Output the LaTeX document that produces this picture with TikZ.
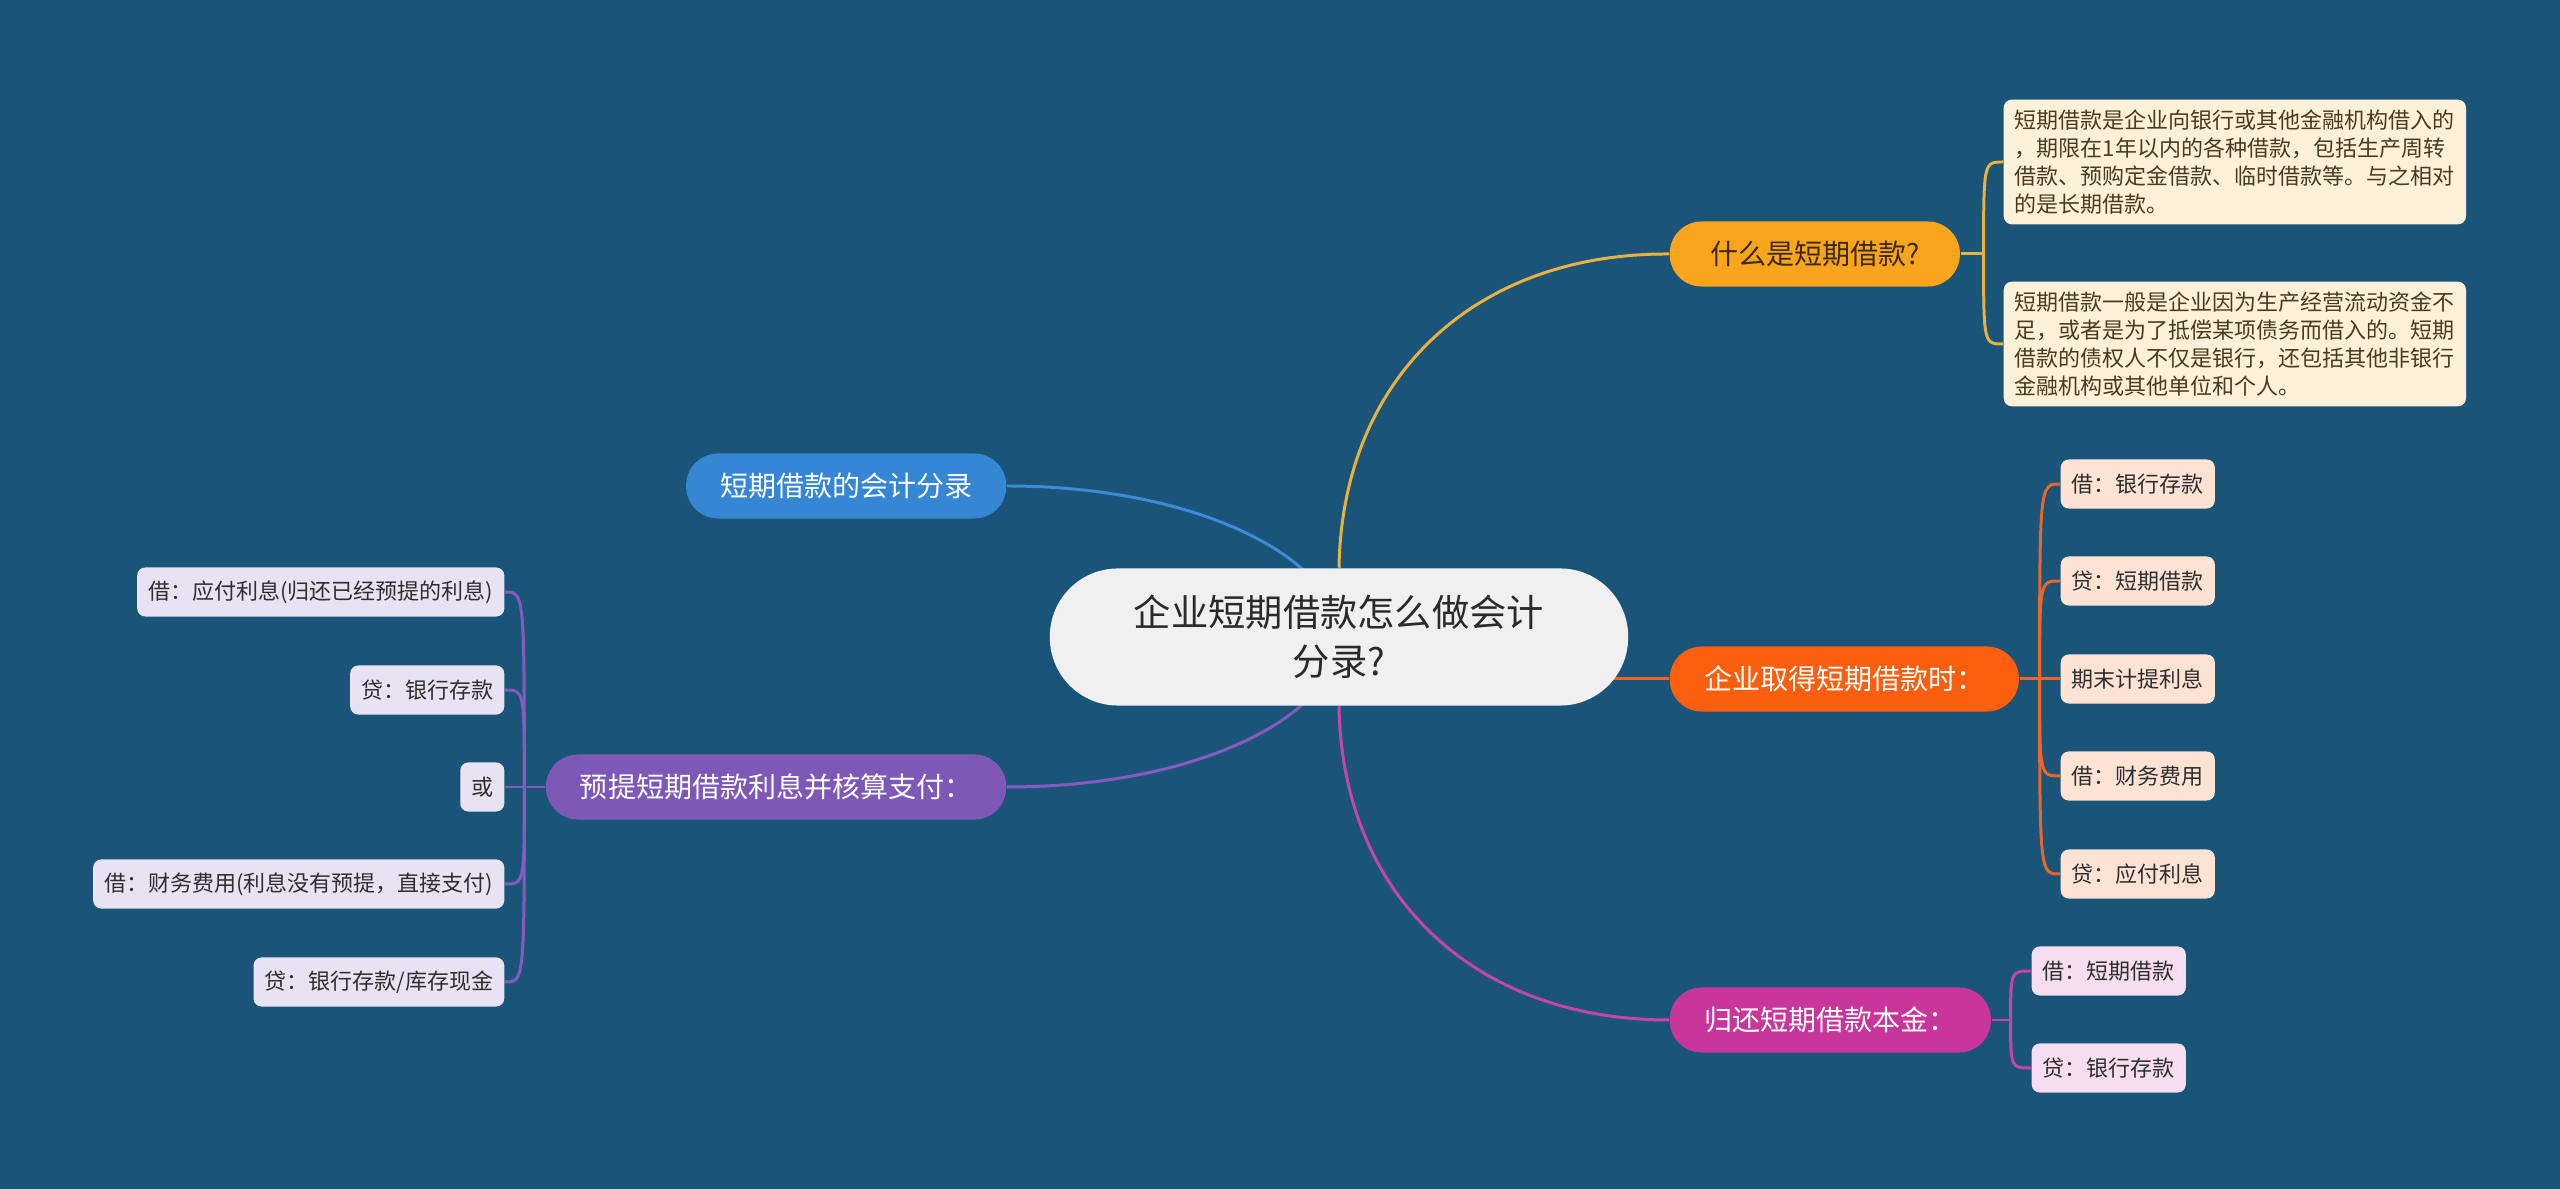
\documentclass[tikz,border=0pt]{standalone}
\usepackage{fontspec}
\newfontfamily\cjkfont{Noto Sans CJK SC}
\usetikzlibrary{positioning}
\definecolor{bgblue}{HTML}{1A5479}
\definecolor{rootgray}{HTML}{F0F0F0}
\definecolor{roottext}{HTML}{2A2A2A}
\definecolor{ylw}{HTML}{FBA51D}
\definecolor{ylwtext}{HTML}{3B2A0E}
\definecolor{ylwline}{HTML}{E9B13F}
\definecolor{org}{HTML}{FA5F10}
\definecolor{orgline}{HTML}{E9672B}
\definecolor{mag}{HTML}{C8369B}
\definecolor{magline}{HTML}{C546A6}
\definecolor{blu}{HTML}{3586D3}
\definecolor{bluline}{HTML}{3B8BD8}
\definecolor{pur}{HTML}{7E58B7}
\definecolor{purline}{HTML}{845CC0}
\definecolor{notefill}{HTML}{FEF1D9}
\definecolor{notetext}{HTML}{4A3A1E}
\definecolor{orgleaf}{HTML}{FDE3D4}
\definecolor{magleaf}{HTML}{F6DDEF}
\definecolor{purleaf}{HTML}{E8E3F3}
\definecolor{leaftext}{HTML}{2E2E2E}
\pgfdeclarelayer{bg}
\pgfdeclarelayer{edges}
\pgfsetlayers{bg,edges,main}

\begin{document}
\begin{tikzpicture}[x=0.01cm,y=-0.01cm,every node/.style={font=\cjkfont},
  root/.style={fill=rootgray,text=roottext,rounded corners=0.68cm,minimum width=5.78cm,minimum height=1.37cm,align=center,font=\cjkfont\fontsize{10.6}{13.9}\selectfont},
  branch/.style={rounded corners=0.32cm,minimum height=0.65cm,inner xsep=0.33cm,inner ysep=0pt,text=white,font=\cjkfont\fontsize{7.97}{9}\selectfont},
  leaf/.style={rounded corners=0.08cm,minimum height=0.49cm,inner xsep=0.11cm,inner ysep=0pt,text=leaftext,font=\cjkfont\fontsize{6.26}{7.5}\selectfont},
  note/.style={leaf,fill=notefill,text=notetext,align=left,minimum width=4.61cm,inner ysep=0.1cm,font=\cjkfont\fontsize{6.26}{7.97}\selectfont},
  link/.style={line width=0.85pt}]
\begin{pgfonlayer}{bg}
\fill[bgblue] (0,0) rectangle (2560,1189);
\end{pgfonlayer}
\useasboundingbox (0,0) rectangle (2560,1189);

\node[root] (root) at (1339,637) {企业短期借款怎么做会计\\分录?};

% right side
\node[branch,fill=ylw,text=ylwtext,minimum width=2.9cm,anchor=west] (what) at (1669,254) {什么是短期借款?};
\node[note,anchor=west] (def1) at (2003,162) {短期借款是企业向银行或其他金融机构借入的\\，期限在1年以内的各种借款，包括生产周转\\借款、预购定金借款、临时借款等。与之相对\\的是长期借款。};
\node[note,anchor=west] (def2) at (2003,344) {短期借款一般是企业因为生产经营流动资金不\\足，或者是为了抵偿某项债务而借入的。短期\\借款的债权人不仅是银行，还包括其他非银行\\金融机构或其他单位和个人。};

\node[branch,fill=org,minimum width=3.49cm,anchor=west] (get) at (1669,679) {企业取得短期借款时：};
\node[leaf,fill=orgleaf,anchor=west] (get1) at (2060,484) {借：银行存款};
\node[leaf,fill=orgleaf,anchor=west] (get2) at (2060,581) {贷：短期借款};
\node[leaf,fill=orgleaf,anchor=west] (get3) at (2060,679) {期末计提利息};
\node[leaf,fill=orgleaf,anchor=west] (get4) at (2060,776) {借：财务费用};
\node[leaf,fill=orgleaf,anchor=west] (get5) at (2060,874) {贷：应付利息};

\node[branch,fill=mag,minimum width=3.21cm,anchor=west] (repay) at (1669,1020) {归还短期借款本金：};
\node[leaf,fill=magleaf,anchor=west] (repay1) at (2031,971) {借：短期借款};
\node[leaf,fill=magleaf,anchor=west] (repay2) at (2031,1068) {贷：银行存款};

% left side
\node[branch,fill=blu,minimum width=3.2cm,anchor=east] (entry) at (1007,486) {短期借款的会计分录};

\node[branch,fill=pur,minimum width=4.6cm,anchor=east] (accrue) at (1007,787) {预提短期借款利息并核算支付：};
\node[leaf,fill=purleaf,anchor=east] (acc1) at (505,592) {借：应付利息(归还已经预提的利息)};
\node[leaf,fill=purleaf,anchor=east] (acc2) at (505,690) {贷：银行存款};
\node[leaf,fill=purleaf,anchor=east] (acc3) at (505,787) {或};
\node[leaf,fill=purleaf,anchor=east] (acc4) at (505,884) {借：财务费用(利息没有预提，直接支付)};
\node[leaf,fill=purleaf,anchor=east] (acc5) at (505,982) {贷：银行存款/库存现金};

\coordinate (whatj) at ([xshift=0.23cm]what.east);
\coordinate (getj) at ([xshift=0.2cm]get.east);
\coordinate (repayj) at ([xshift=0.19cm]repay.east);
\coordinate (accruej) at ([xshift=-0.21cm]accrue.west);

\begin{pgfonlayer}{edges}
% root to branches
\draw[link,ylwline] (root.north) .. controls (1342,379) and (1473,253) .. (what.west);
\draw[link,orgline] (root.center |- get.west) -- (get.west);
\draw[link,magline] (root.south) .. controls (1342,894) and (1473,1020) .. (repay.west);
\draw[link,bluline] (root.center) .. controls (1339,560) and (1200,486) .. (entry.east);
\draw[link,purline] (root.center) .. controls (1339,714) and (1200,787) .. (accrue.east);
% branches to leaves
\draw[link,ylwline] (what.east) -- (whatj);
\draw[link,ylwline] (whatj) .. controls (whatj |- def1.west) and (whatj |- def1.west) .. (def1.west);
\draw[link,ylwline] (whatj) .. controls (whatj |- def2.west) and (whatj |- def2.west) .. (def2.west);
\draw[link,orgline] (get.east) -- (get3.west);
\draw[link,orgline] (getj) .. controls (getj |- get1.west) and (getj |- get1.west) .. (get1.west);
\draw[link,orgline] (getj) .. controls (getj |- get2.west) and (getj |- get2.west) .. (get2.west);
\draw[link,orgline] (getj) .. controls (getj |- get4.west) and (getj |- get4.west) .. (get4.west);
\draw[link,orgline] (getj) .. controls (getj |- get5.west) and (getj |- get5.west) .. (get5.west);
\draw[link,magline] (repay.east) -- (repayj);
\draw[link,magline] (repayj) .. controls (repayj |- repay1.west) and (repayj |- repay1.west) .. (repay1.west);
\draw[link,magline] (repayj) .. controls (repayj |- repay2.west) and (repayj |- repay2.west) .. (repay2.west);
\draw[link,purline] (accrue.west) -- (acc3.east);
\draw[link,purline] (accruej) .. controls (accruej |- acc1.east) and (accruej |- acc1.east) .. (acc1.east);
\draw[link,purline] (accruej) .. controls (accruej |- acc2.east) and (accruej |- acc2.east) .. (acc2.east);
\draw[link,purline] (accruej) .. controls (accruej |- acc4.east) and (accruej |- acc4.east) .. (acc4.east);
\draw[link,purline] (accruej) .. controls (accruej |- acc5.east) and (accruej |- acc5.east) .. (acc5.east);
\end{pgfonlayer}
\end{tikzpicture}
\end{document}
